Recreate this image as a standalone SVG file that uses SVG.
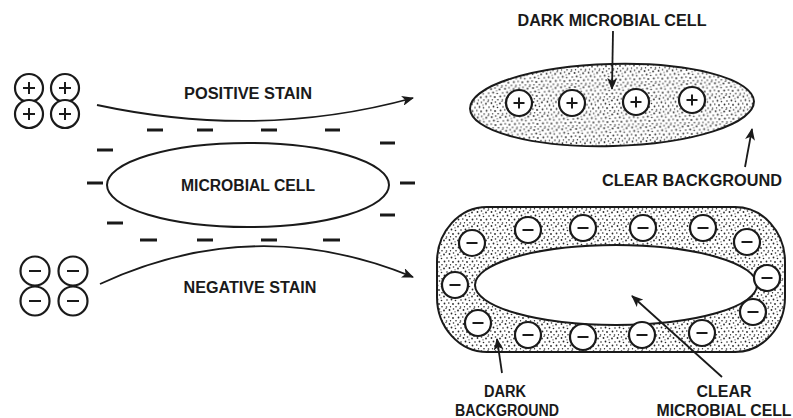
<svg xmlns="http://www.w3.org/2000/svg" width="793" height="418" viewBox="0 0 793 418">
<style>
  .t{font-family:"Liberation Sans",Arial,sans-serif;font-weight:bold;font-size:16px;fill:#1a1a1a;text-anchor:middle;dominant-baseline:central}
  .ln{fill:none;stroke:#1a1a1a;stroke-width:1.8}
  .ion{fill:#fff;stroke:#1a1a1a;stroke-width:2.2}
  .sg{stroke:#1a1a1a;stroke-width:2;fill:none}
  .dash{stroke:#1a1a1a;stroke-width:2.8}
  .body{stroke:#1a1a1a;stroke-width:2}
</style>
<defs>
  <pattern id="stipple" width="14" height="14" patternUnits="userSpaceOnUse">
    <rect width="14" height="14" fill="#fff"/>
    <g fill="#2a2a2a">
      <circle cx="1.5" cy="2" r="0.9"/><circle cx="5.5" cy="1" r="0.8"/><circle cx="10" cy="2.5" r="0.9"/>
      <circle cx="13" cy="6" r="0.8"/><circle cx="3.5" cy="5.5" r="0.9"/><circle cx="7.5" cy="6.5" r="0.8"/>
      <circle cx="0.8" cy="9" r="0.8"/><circle cx="10.5" cy="9.5" r="0.9"/><circle cx="5" cy="10" r="0.9"/>
      <circle cx="8" cy="12.8" r="0.8"/><circle cx="12.5" cy="13" r="0.8"/><circle cx="2.5" cy="12.8" r="0.7"/>
      <circle cx="12" cy="0.5" r="0.6"/><circle cx="7" cy="3.8" r="0.6"/>
    </g>
  </pattern>
  <marker id="ah" viewBox="0 0 12 10" refX="11" refY="5" markerWidth="12" markerHeight="10" markerUnits="userSpaceOnUse" orient="auto">
    <path d="M0,0 L12,5 L0,10 L3,5 Z" fill="#1a1a1a"/>
  </marker>
  <g id="plus"><circle r="13" class="ion"/><path d="M-5.5,0 H5.5 M0,-5.5 V5.5" class="sg"/></g>
  <g id="minus"><circle r="13" class="ion"/><path d="M-5.5,0 H5.5" class="sg" stroke-width="2.5"/></g>
  <g id="plusL"><circle r="14" class="ion"/><path d="M-6,0 H6 M0,-6 V6" class="sg"/></g>
  <g id="minusL"><circle r="14.5" class="ion"/><path d="M-6,0 H6" class="sg" stroke-width="2.5"/></g>
</defs>
<rect width="793" height="418" fill="#fff"/>

<g id="positive-ions">
  <use href="#plusL" x="29" y="88"/><use href="#plusL" x="65" y="88"/>
  <use href="#plusL" x="29" y="114"/><use href="#plusL" x="65" y="114"/>
</g>
<g id="negative-ions">
  <use href="#minusL" x="35" y="271"/><use href="#minusL" x="73" y="271"/>
  <use href="#minusL" x="35" y="301"/><use href="#minusL" x="73" y="301"/>
</g>

<g id="microbial-cell">
  <ellipse cx="248" cy="185" rx="141" ry="42" fill="#fff" class="body"/>
  <text class="t" x="248" y="185" textLength="134" lengthAdjust="spacingAndGlyphs">MICROBIAL CELL</text>
  <g class="dash">
    <path d="M147,130 H163 M197,130 H213 M261,130 H277 M325,130 H340"/>
    <path d="M97,150 H113 M380,143 H395"/>
    <path d="M87,183 H103 M400,183 H415"/>
    <path d="M107,223 H123 M380,215 H395"/>
    <path d="M140,240 H157 M197,240 H213 M261,240 H277 M323,240 H340"/>
  </g>
</g>

<g id="dark-microbial-cell">
  <ellipse cx="612" cy="105" rx="142" ry="41" transform="rotate(-1.5 612 105)" fill="url(#stipple)" class="body"/>
  <use href="#plus" x="519" y="103"/><use href="#plus" x="572" y="103"/>
  <use href="#plus" x="636" y="102"/><use href="#plus" x="692" y="100"/>
</g>

<g id="negative-stained-cell">
  <rect x="437" y="207" width="348" height="145" rx="50" ry="55" fill="url(#stipple)" class="body"/>
  <ellipse cx="616" cy="285" rx="141" ry="40" fill="#fff" class="body"/>
  <use href="#minus" x="472" y="243"/><use href="#minus" x="528" y="230"/>
  <use href="#minus" x="583" y="228"/><use href="#minus" x="643" y="228"/>
  <use href="#minus" x="703" y="228"/><use href="#minus" x="747" y="242"/>
  <use href="#minus" x="455" y="285"/><use href="#minus" x="767" y="278"/>
  <use href="#minus" x="478" y="323"/><use href="#minus" x="528" y="335"/>
  <use href="#minus" x="583" y="337"/><use href="#minus" x="642" y="335"/>
  <use href="#minus" x="702" y="333"/><use href="#minus" x="753" y="312"/>
</g>

<g id="connectors">
  <path class="ln" d="M97,105 Q260,140 413,98" marker-end="url(#ah)"/>
  <path class="ln" d="M100,284 Q255,212 413,277" marker-end="url(#ah)"/>
  <path class="ln" d="M613,31 L612,89" marker-end="url(#ah)"/>
  <path class="ln" d="M745,167 L752,129" marker-end="url(#ah)"/>
  <path class="ln" d="M502,373 L497,339" marker-end="url(#ah)"/>
  <path class="ln" d="M722,377 L632,296" marker-end="url(#ah)"/>
</g>

<g id="labels">
  <text class="t" x="248" y="93" textLength="128" lengthAdjust="spacingAndGlyphs">POSITIVE STAIN</text>
  <text class="t" x="250" y="287" textLength="133" lengthAdjust="spacingAndGlyphs">NEGATIVE STAIN</text>
  <text class="t" x="612" y="20" textLength="189" lengthAdjust="spacingAndGlyphs">DARK MICROBIAL CELL</text>
  <text class="t" x="692" y="180" textLength="180" lengthAdjust="spacingAndGlyphs">CLEAR BACKGROUND</text>
  <text class="t" x="505" y="391" textLength="42" lengthAdjust="spacingAndGlyphs">DARK</text>
  <text class="t" x="507" y="410" textLength="104" lengthAdjust="spacingAndGlyphs">BACKGROUND</text>
  <text class="t" x="724" y="391" textLength="55" lengthAdjust="spacingAndGlyphs">CLEAR</text>
  <text class="t" x="724" y="410" textLength="135" lengthAdjust="spacingAndGlyphs">MICROBIAL CELL</text>
</g>
</svg>
